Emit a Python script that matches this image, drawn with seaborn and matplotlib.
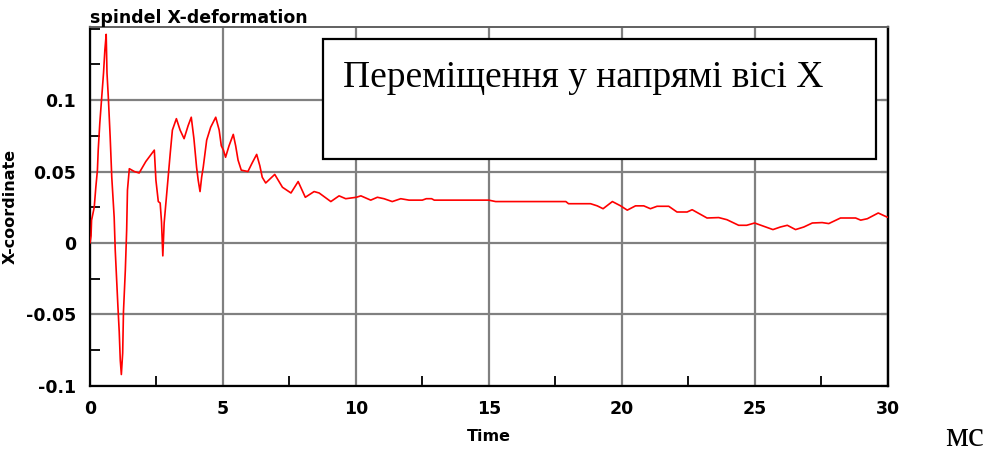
import numpy as np
import pandas as pd
import matplotlib
matplotlib.use("Agg")
import matplotlib.pyplot as plt
from matplotlib.patches import Rectangle
from matplotlib.ticker import MultipleLocator, FixedLocator
import seaborn as sns

# values (time in ms, X deformation)
time_ms = [0.00, 0.04, 0.06, 0.16, 0.22, 0.28, 0.31, 0.37, 0.44, 0.51, 0.56, 0.61,
           0.64, 0.69, 0.76, 0.82, 0.91, 0.95, 1.00, 1.05, 1.10, 1.14, 1.18, 1.23,
           1.26, 1.33, 1.38, 1.41, 1.48, 1.67, 1.85, 2.10, 2.42, 2.48, 2.57, 2.64,
           2.69, 2.74, 2.79, 2.86, 2.94, 3.02, 3.10, 3.25, 3.39, 3.54, 3.69, 3.81,
           3.91, 4.01, 4.07, 4.14, 4.20, 4.26, 4.39, 4.54, 4.73, 4.86, 4.94, 5.02,
           5.10, 5.23, 5.39, 5.48, 5.57, 5.69, 5.94, 6.10, 6.27, 6.39, 6.48, 6.61,
           6.95, 7.24, 7.56, 7.83, 8.10, 8.43, 8.62, 9.06, 9.37, 9.62, 10.02, 10.19,
           10.56, 10.81, 11.06, 11.37, 11.69, 12.00, 12.50, 12.65, 12.85, 12.95,
           15.00, 15.26, 17.90, 18.00, 18.83, 19.08, 19.30, 19.65, 19.96, 20.21,
           20.52, 20.83, 21.08, 21.33, 21.77, 22.08, 22.46, 22.65, 23.21, 23.65,
           23.96, 24.40, 24.70, 25.00, 25.35, 25.69, 25.97, 26.23, 26.54, 26.85,
           27.17, 27.54, 27.79, 28.23, 28.80, 28.99, 29.24, 29.65, 30.00]
x_deform = [0.000, 0.005, 0.016, 0.025, 0.039, 0.051, 0.065, 0.084, 0.102, 0.119, 0.135, 0.146,
            0.119, 0.102, 0.074, 0.046, 0.018, -0.005, -0.025, -0.044, -0.062, -0.082, -0.092, -0.077,
            -0.048, -0.019, 0.009, 0.037, 0.052, 0.050, 0.049, 0.057, 0.065, 0.044, 0.029, 0.028,
            0.015, -0.009, 0.014, 0.029, 0.046, 0.063, 0.079, 0.087, 0.079, 0.073, 0.082, 0.088,
            0.073, 0.053, 0.044, 0.036, 0.046, 0.053, 0.072, 0.081, 0.088, 0.079, 0.068, 0.065,
            0.060, 0.068, 0.076, 0.068, 0.058, 0.051, 0.050, 0.056, 0.062, 0.054, 0.046, 0.042,
            0.048, 0.039, 0.035, 0.043, 0.032, 0.036, 0.035, 0.029, 0.033, 0.031, 0.032, 0.033,
            0.030, 0.032, 0.031, 0.029, 0.031, 0.030, 0.030, 0.031, 0.031, 0.030,
            0.030, 0.029, 0.029, 0.0275, 0.0275, 0.026, 0.024, 0.029, 0.026, 0.023,
            0.026, 0.026, 0.024, 0.0257, 0.0257, 0.0217, 0.0217, 0.0233, 0.0175, 0.0178,
            0.0163, 0.0124, 0.0124, 0.014, 0.0117, 0.0094, 0.0112, 0.0124, 0.0094, 0.0112,
            0.014, 0.0143, 0.0136, 0.0175, 0.0175, 0.016, 0.017, 0.021, 0.018]

y_ticks = [-0.1, -0.05, 0, 0.05, 0.1]
y_tick_labels = ["-0.1", "-0.05", "0", "0.05", "0.1"]
x_ticks = [0, 5, 10, 15, 20, 25, 30]

sns.set_theme(style="white")
plt.rcParams['font.family'] = ['DejaVu Sans']
plt.rcParams['text.color'] = 'black'
plt.rcParams['axes.labelcolor'] = 'black'
plt.rcParams['xtick.color'] = 'black'
plt.rcParams['ytick.color'] = 'black'

df = pd.DataFrame({"Time": time_ms, "X": x_deform})

fig = plt.figure(figsize=(9.92, 4.53), dpi=100)
ax = fig.add_axes([0.0907, 0.148, 0.804, 0.792])

sns.lineplot(data=df, x="Time", y="X", color="red", linewidth=1.2,
             estimator=None, sort=False, ax=ax, zorder=3)

ax.set_xlim(0, 30)
ax.set_ylim(-0.1, 0.151)
ax.xaxis.set_major_locator(FixedLocator(x_ticks))
ax.xaxis.set_minor_locator(MultipleLocator(2.5))
ax.yaxis.set_major_locator(FixedLocator(y_ticks))
ax.yaxis.set_minor_locator(MultipleLocator(0.025))
ax.set_yticklabels(y_tick_labels)
ax.set_xticklabels([str(v) for v in x_ticks])

ax.grid(True, which="major", color="#808080", linewidth=1.6)
ax.tick_params(which="major", direction="out", length=7, width=1.5, color="black",
               labelsize=12.5, pad=3, labelcolor="black")
ax.tick_params(which="minor", direction="in", length=7, width=1.3, color="black",
               left=True, bottom=True)
for lab in ax.get_xticklabels() + ax.get_yticklabels():
    lab.set_fontweight("bold")

# short inward ticks on the right frame
right = ax.secondary_yaxis("right")
right.set_yticks(y_ticks)
right.set_yticklabels([])
right.tick_params(direction="in", length=5, width=1.5, color="black")
right.spines["right"].set_color("black")
right.spines["right"].set_linewidth(1.6)

for side in ["left", "bottom", "right"]:
    ax.spines[side].set_color("black")
    ax.spines[side].set_linewidth(1.6)
ax.spines["top"].set_color("#606060")
ax.spines["top"].set_linewidth(1.4)

ax.set_title("spindel X-deformation", loc="left", fontsize=12.5, fontweight="bold",
             pad=2, color="black")
ax.set_xlabel("Time", fontsize=11.5, fontweight="bold", labelpad=8)
ax.set_ylabel("X-coordinate", fontsize=11.5, fontweight="bold", labelpad=6)

# caption box
ax.add_patch(Rectangle((0.292, 0.632), 0.694, 0.335, transform=ax.transAxes,
                       facecolor="white", edgecolor="black", linewidth=1.6, zorder=5))
ax.text(0.317, 0.833, "Переміщення у напрямі вісі X", transform=ax.transAxes,
        family="Liberation Serif", fontsize=27, va="baseline", ha="left",
        color="black", zorder=6)

fig.text(0.953, 0.015, "мс", family="Liberation Serif", fontsize=26,
         va="baseline", ha="left", color="black")

fig.savefig("out.png", dpi=100)
